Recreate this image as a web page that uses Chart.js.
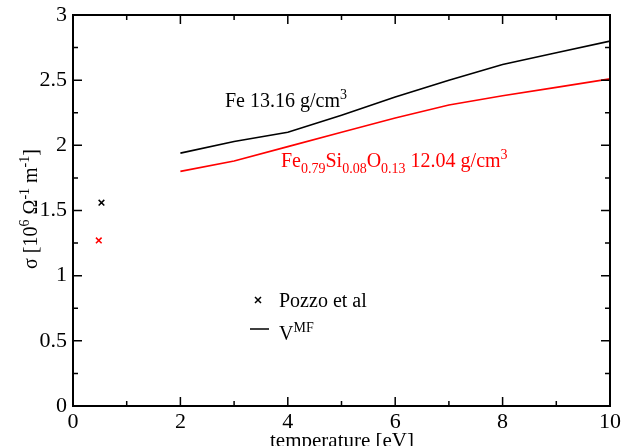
<!DOCTYPE html>
<html>
<head>
<meta charset="utf-8">
<script src="https://cdn.jsdelivr.net/npm/chart.js@4/dist/chart.umd.min.js"></script>
<style>
  html, body { margin: 0; padding: 0; background: #fff; }
</style>
</head>
<body>
<canvas id="chart" width="626" height="446"></canvas>
<script>
  // data
  const temps = [2, 3, 4, 5, 6, 7, 8, 9, 10];
  const sigmaFe = [1.94, 2.03, 2.10, 2.23, 2.37, 2.50, 2.62, 2.71, 2.80];
  const sigmaFeSiO = [1.80, 1.88, 1.99, 2.10, 2.21, 2.31, 2.38, 2.445, 2.51];
  const pozzoFe = [{ x: 0.53, y: 1.56 }];
  const pozzoFeSiO = [{ x: 0.48, y: 1.27 }];
  const xTicks = [0, 2, 4, 6, 8, 10];
  const yTicks = [0, 0.5, 1, 1.5, 2, 2.5, 3];
  const yTickLabels = ['0', '0.5', '1', '1.5', '2', '2.5', '3'];

  const SERIF = '"Liberation Serif", "DejaVu Serif", serif';

  const pts = (xs, ys) => xs.map((x, i) => ({ x, y: ys[i] }));

  // draw text runs with sub/superscripts, left to right
  function runs(ctx, x, y, parts, size, color) {
    ctx.fillStyle = color;
    ctx.textBaseline = 'alphabetic';
    ctx.textAlign = 'left';
    parts.forEach(p => {
      const s = p.sub || p.sup ? size * 0.7 : size;
      const dy = p.sub ? size * 0.3 : p.sup ? -size * 0.42 : 0;
      ctx.font = s + 'px ' + SERIF;
      ctx.fillText(p.t, x, y + dy);
      x += ctx.measureText(p.t).width;
    });
    return x;
  }

  function runsWidth(ctx, parts, size) {
    let w = 0;
    parts.forEach(p => {
      const s = p.sub || p.sup ? size * 0.7 : size;
      ctx.font = s + 'px ' + SERIF;
      w += ctx.measureText(p.t).width;
    });
    return w;
  }

  const frame = {
    id: 'frame',
    afterDraw(chart) {
      const { ctx, chartArea: a, scales: { x, y } } = chart;
      ctx.save();
      ctx.strokeStyle = '#000';
      ctx.lineWidth = 2;
      ctx.strokeRect(a.left, a.top, a.right - a.left, a.bottom - a.top);

      // inward ticks on all four sides
      ctx.lineWidth = 1.5;
      ctx.beginPath();
      for (let v = 0; v <= 10; v += 1) {
        const px = x.getPixelForValue(v);
        const len = v % 2 === 0 ? 9 : 5;
        ctx.moveTo(px, a.bottom); ctx.lineTo(px, a.bottom - len);
        ctx.moveTo(px, a.top); ctx.lineTo(px, a.top + len);
      }
      for (let v = 0; v <= 3.001; v += 0.25) {
        const py = y.getPixelForValue(v);
        const len = Math.abs(v * 2 - Math.round(v * 2)) < 1e-6 ? 9 : 5;
        ctx.moveTo(a.left, py); ctx.lineTo(a.left + len, py);
        ctx.moveTo(a.right, py); ctx.lineTo(a.right - len, py);
      }
      ctx.stroke();

      // curve labels
      runs(ctx, 225, 107, [{ t: 'Fe 13.16 g/cm' }, { t: '3', sup: true }], 20, '#000');
      runs(ctx, 281, 167, [
        { t: 'Fe' }, { t: '0.79', sub: true },
        { t: 'Si' }, { t: '0.08', sub: true },
        { t: 'O' }, { t: '0.13', sub: true },
        { t: ' 12.04 g/cm' }, { t: '3', sup: true }
      ], 20, '#ff0000');

      // legend
      ctx.strokeStyle = '#000';
      ctx.lineWidth = 1.5;
      ctx.beginPath();
      ctx.moveTo(255, 297); ctx.lineTo(261, 303);
      ctx.moveTo(261, 297); ctx.lineTo(255, 303);
      ctx.moveTo(250, 329); ctx.lineTo(269, 329);
      ctx.stroke();
      runs(ctx, 279, 307, [{ t: 'Pozzo et al' }], 20, '#000');
      runs(ctx, 279, 340, [{ t: 'V' }, { t: 'MF', sup: true }], 20, '#000');

      // axis titles
      ctx.font = '21px ' + SERIF;
      ctx.textAlign = 'center';
      ctx.fillStyle = '#000';
      ctx.fillText('temperature [eV]', 342, 447);

      const yt = [
        { t: 'σ [10' }, { t: '6', sup: true }, { t: ' Ω' }, { t: '-1', sup: true },
        { t: ' m' }, { t: '-1', sup: true }, { t: ']' }
      ];
      ctx.translate(37, 209);
      ctx.rotate(-Math.PI / 2);
      const w = runsWidth(ctx, yt, 20);
      runs(ctx, -w / 2, 0, yt, 20, '#000');
      ctx.restore();
    }
  };

  new Chart(document.getElementById('chart'), {
    type: 'scatter',
    data: {
      datasets: [
        { label: 'Fe', data: pts(temps, sigmaFe), showLine: true, borderColor: '#000', borderWidth: 1.6, pointRadius: 0, tension: 0 },
        { label: 'FeSiO', data: pts(temps, sigmaFeSiO), showLine: true, borderColor: '#ff0000', borderWidth: 1.6, pointRadius: 0, tension: 0 },
        { label: 'Pozzo Fe', data: pozzoFe, pointStyle: 'crossRot', pointRadius: 4, borderColor: '#000', borderWidth: 1.5 },
        { label: 'Pozzo FeSiO', data: pozzoFeSiO, pointStyle: 'crossRot', pointRadius: 4, borderColor: '#ff0000', borderWidth: 1.5 }
      ]
    },
    options: {
      responsive: false,
      animation: false,
      devicePixelRatio: 1,
      layout: { padding: { top: 15, right: 16, left: 0, bottom: 0 } },
      plugins: { legend: { display: false }, tooltip: { enabled: false } },
      scales: {
        x: {
          type: 'linear', min: 0, max: 10,
          afterBuildTicks: s => { s.ticks = xTicks.map(v => ({ value: v })); },
          afterFit: s => { s.height = 40; s.paddingLeft = 0; s.paddingRight = 0; },
          grid: { display: false, drawTicks: false },
          border: { display: false },
          ticks: { color: '#000', padding: 3, maxRotation: 0, font: { family: SERIF, size: 22 } }
        },
        y: {
          type: 'linear', min: 0, max: 3,
          afterBuildTicks: s => { s.ticks = yTicks.map(v => ({ value: v })); },
          afterFit: s => { s.width = 73; s.paddingTop = 0; s.paddingBottom = 0; },
          grid: { display: false, drawTicks: false },
          border: { display: false },
          ticks: {
            color: '#000', padding: 6, font: { family: SERIF, size: 22 },
            callback: (v, i) => yTickLabels[i]
          }
        }
      }
    },
    plugins: [frame]
  });
</script>
</body>
</html>
